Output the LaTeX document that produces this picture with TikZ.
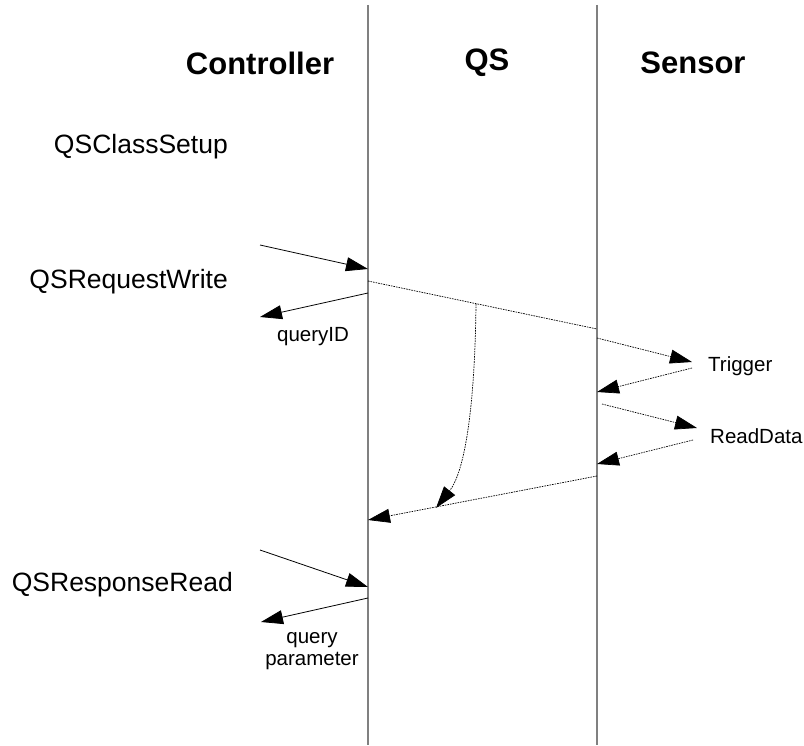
\documentclass[tikz,border=0pt]{standalone}
\usepackage{fontspec}
\setmainfont{Liberation Sans}
\usetikzlibrary{arrows.meta}
\begin{document}
\begin{tikzpicture}[x=1pt,y=-1pt,
  lifeline/.style={draw=black!50,line width=1.3pt},
  msg/.style={draw=black,line width=0.8pt,-{Triangle[length=22pt,width=14pt]}},
  dmsg/.style={draw=black,line width=0.7pt,dash pattern=on 1.6pt off 1pt,-{Triangle[length=22pt,width=14pt]}},
  dline/.style={draw=black,line width=0.7pt,dash pattern=on 1.6pt off 1pt},
  head/.style={font=\fontsize{31}{34}\selectfont\bfseries,inner sep=0pt},
  big/.style={font=\fontsize{26.5}{30}\selectfont,inner sep=0pt},
  small/.style={font=\fontsize{20.5}{23}\selectfont,inner sep=0pt,align=center}]
\useasboundingbox (0,0) rectangle (804,746);
% lifelines
\coordinate (ctop) at (368,5);
\coordinate (cbot) at (368,745);
\coordinate (stop) at (597,5);
\coordinate (sbot) at (597,745);
\draw[lifeline] (ctop) -- (cbot);
\draw[lifeline] (stop) -- (sbot);
% headings
\node[head] (hc) at (260,63) {Controller};
\node[head] (hq) at (487,63) {QS};
\node[head] (hs) at (693,63) {Sensor};
% left labels
\node[big,anchor=east] (l1) at (228,147) {QSClassSetup};
\node[big,anchor=east] (l2) at (228,282) {QSRequestWrite};
\node[big,anchor=east] (l3) at (233,585) {QSResponseRead};
% small labels
\node[small] (qid) at (313,337) {queryID};
\node[small,anchor=west] (trig) at (708,366) {Trigger};
\node[small,anchor=west] (rd) at (710,436) {ReadData};
\node[small] (qp) at (312,651) {query\\[-1pt]parameter};
% endpoints
\coordinate (a1s) at (260,245); \coordinate (a1e) at (368,269);
\coordinate (a2s) at (368,293); \coordinate (a2e) at (260,317);
\coordinate (d1s) at (368,281); \coordinate (d1e) at (597,329);
\coordinate (d2s) at (597,338); \coordinate (d2e) at (692,362);
\coordinate (d3s) at (692,368); \coordinate (d3e) at (597,392);
\coordinate (d4s) at (602,404); \coordinate (d4e) at (697,428);
\coordinate (d5s) at (693,440); \coordinate (d5e) at (597,464);
\coordinate (d6s) at (597,476); \coordinate (d6e) at (368,520);
\coordinate (cvs) at (476,304); \coordinate (cve) at (436,508);
\coordinate (a3s) at (260,550); \coordinate (a3e) at (368,587);
\coordinate (a4s) at (368,598); \coordinate (a4e) at (261,622);
% messages
\draw[msg] (a1s) -- (a1e);
\draw[msg] (a2s) -- (a2e);
\draw[dline] (d1s) -- (d1e);
\draw[dmsg] (d2s) -- (d2e);
\draw[dmsg] (d3s) -- (d3e);
\draw[dmsg] (d4s) -- (d4e);
\draw[dmsg] (d5s) -- (d5e);
\draw[dmsg] (d6s) -- (d6e);
\draw[dmsg] (cvs) .. controls (475,400) and (466,470) .. (cve);
\draw[msg] (a3s) -- (a3e);
\draw[msg] (a4s) -- (a4e);
\end{tikzpicture}
\end{document}
